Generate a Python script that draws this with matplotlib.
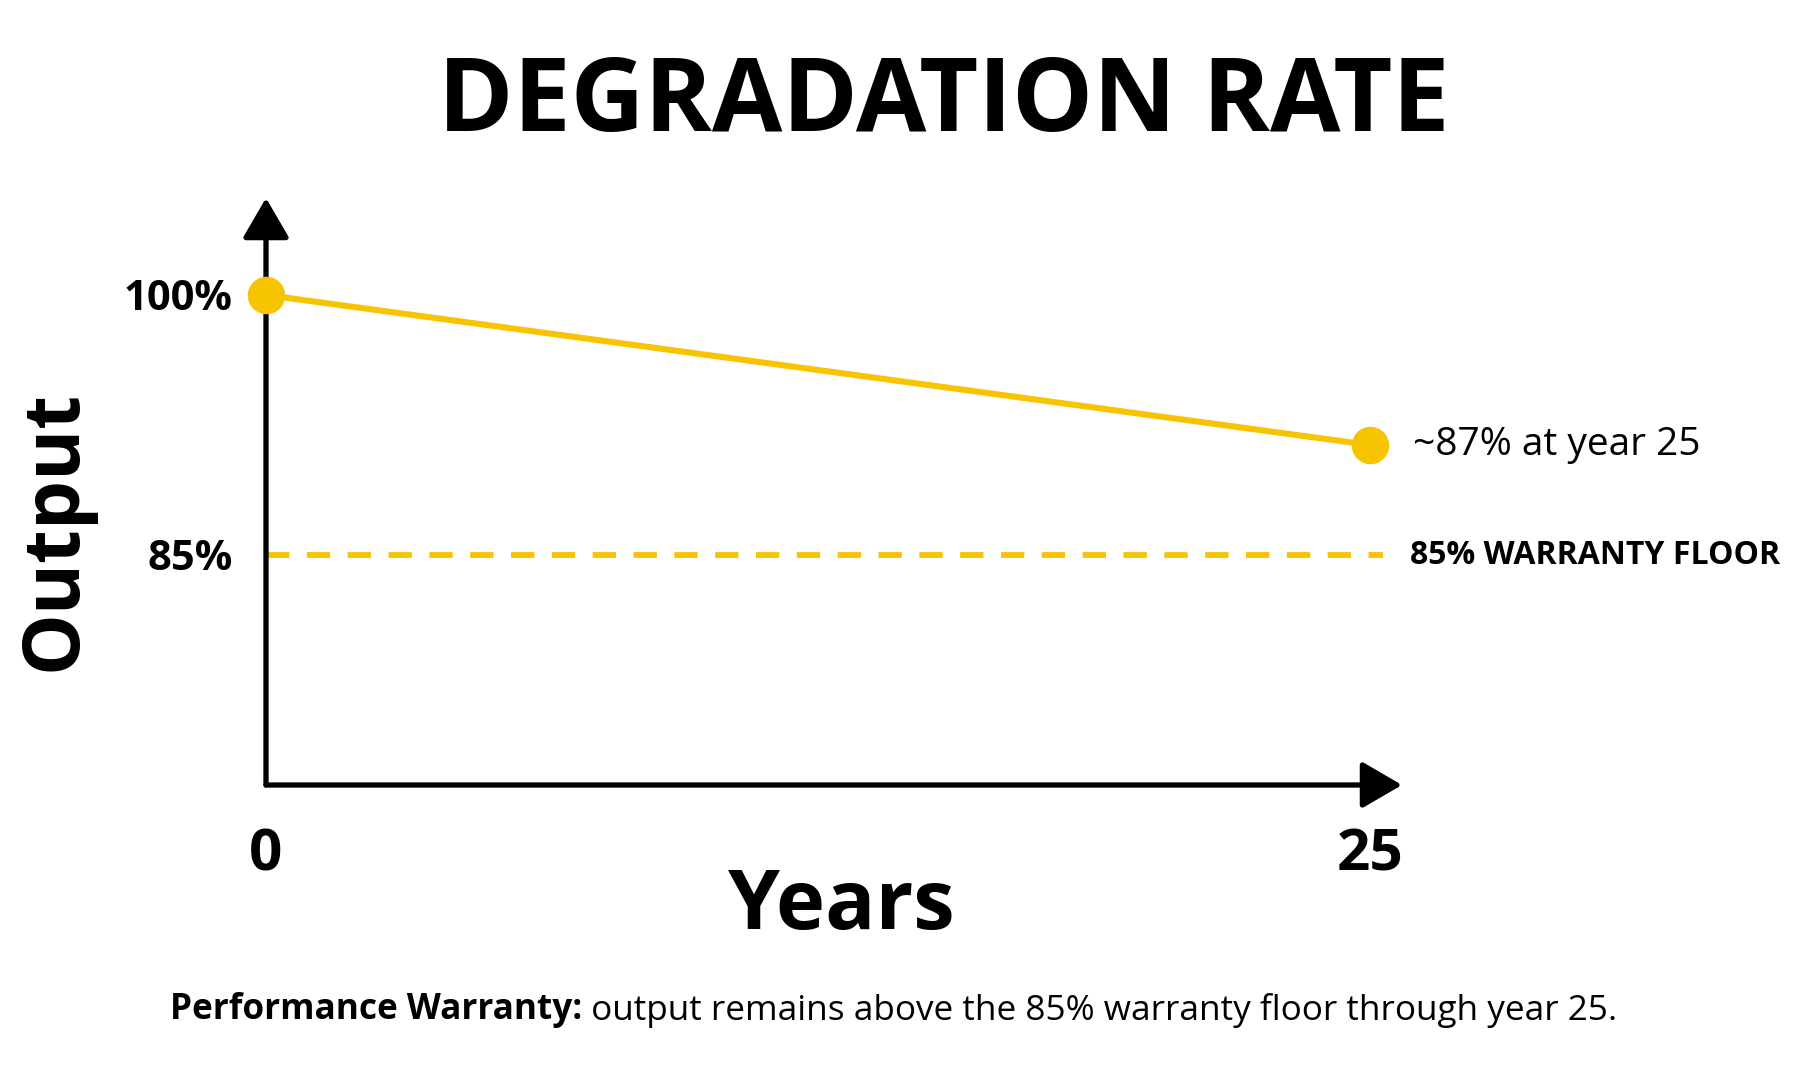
import numpy as np
import matplotlib
matplotlib.use("Agg")
import matplotlib.pyplot as plt

# ---- data ----
years = [0, 25]
output_pct = [100, 87]
warranty_floor = 85
y_ticks = [85, 100]
y_tick_labels = ["85%", "100%"]
x_ticks = [0, 25]
x_tick_labels = ["0", "25"]
end_label = "~87% at year 25"
floor_label = "85% WARRANTY FLOOR"

YELLOW = "#F6C400"
plt.rcParams['font.family'] = ['Open Sans', 'DejaVu Sans']

fig = plt.figure(figsize=(18, 10.82), dpi=100)
W, H = 1800, 1082

# axes placed by pixel geometry
ax_l, ax_r, ax_b, ax_t = 266, 1402, 785, 198
ax = fig.add_axes([ax_l / W, 1 - ax_b / H, (ax_r - ax_l) / W, (ax_b - ax_t) / H])

# schematic (piecewise-linear) y scale as drawn in the reference
knot_v = np.array([70.0, 85.0, 87.0, 100.0, 115.0])
knot_p = np.array([0.0, 230.0, 340.0, 490.0, 490.0 + 15 * 150.0 / 13])
fwd = lambda v: np.interp(v, knot_v, knot_p)
inv = lambda p: np.interp(p, knot_p, knot_v)
ax.set_yscale('function', functions=(fwd, inv))
ax.set_ylim(70, float(inv(ax_b - ax_t)))
x_right = years[-1] * (ax_r - ax_l) / (1370 - ax_l)
ax.set_xlim(0, x_right)

for s in ax.spines.values():
    s.set_visible(False)

# axis arrows
arrow_kw = dict(arrowstyle='-|>,head_length=0.55,head_width=0.32', color='black',
                lw=3.8, shrinkA=0, shrinkB=0, mutation_scale=45)
ax.annotate('', xy=(0, 1), xytext=(0, 0), xycoords='axes fraction', arrowprops=arrow_kw)
ax.annotate('', xy=(1, 0), xytext=(0, 0), xycoords='axes fraction', arrowprops=arrow_kw)

# warranty floor dashed line
ax.plot([years[0], years[-1] + 0.3], [warranty_floor, warranty_floor], color=YELLOW,
        lw=4.2, dashes=(4.0, 3.0), solid_capstyle='butt', zorder=2)

# degradation line
ax.plot(years, output_pct, color=YELLOW, lw=4.4, marker='o', markersize=27,
        markeredgewidth=0, zorder=3, clip_on=False)

# annotations
ax.annotate(end_label, xy=(years[-1], output_pct[-1]), xytext=(43, 0),
            textcoords='offset pixels', va='center', ha='left', fontsize=28, color='black')
ax.annotate(floor_label, xy=(years[-1], warranty_floor), xytext=(40, 0),
            textcoords='offset pixels', va='center', ha='left', fontsize=23,
            fontweight='bold', color='black')

# ticks
ax.set_yticks(y_ticks)
ax.set_yticklabels(y_tick_labels, fontsize=30, fontweight='bold')
ax.set_xticks(x_ticks)
ax.set_xticklabels(x_tick_labels, fontsize=42, fontweight='bold')
ax.tick_params(axis='y', length=0, pad=24)
ax.tick_params(axis='x', length=0, pad=30)
ax.yaxis.set_minor_locator(matplotlib.ticker.NullLocator())

# axis labels
ax.set_ylabel("Output", fontsize=56, fontweight='bold')
ax.yaxis.label.set_va('center')
ax.yaxis.set_label_coords((55 - ax_l) / (ax_r - ax_l), (ax_b - 530) / (ax_b - ax_t))
ax.set_xlabel("Years", fontsize=60, fontweight='bold')
ax.xaxis.label.set_va('center')
ax.xaxis.set_label_coords((841 - ax_l) / (ax_r - ax_l), -(907 - ax_b) / (ax_b - ax_t))

# title
fig.text(944 / W, 1 - 104 / H, "DEGRADATION RATE", ha='center', va='center',
         fontsize=73.5, fontweight='bold')

# footnote
t1 = fig.text(170 / W, 1 - 1010 / H, "Performance Warranty:", ha='left', va='center',
              fontsize=25.3, fontweight='bold')
ax.annotate(" output remains above the 85% warranty floor through year 25.",
            xy=(1, 0), xycoords=t1, ha='left', va='bottom', fontsize=25.3,
            annotation_clip=False)

fig.savefig("out.png", dpi=100, facecolor='white')
